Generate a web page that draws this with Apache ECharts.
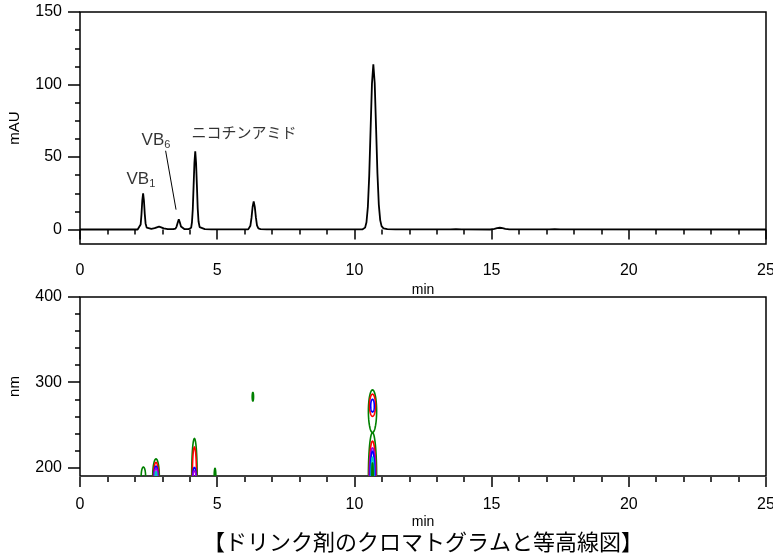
<!DOCTYPE html>
<html>
<head>
<meta charset="utf-8">
<script src="https://cdn.jsdelivr.net/npm/echarts@6/dist/echarts.min.js"></script>
<style>
html,body{margin:0;padding:0;background:#fff;}
#c{width:773px;height:556px;}
</style>
</head>
<body>
<div id="c"></div>
<script>
// ---- chromatogram (time in min, absorbance in mAU) ----
const chromTime = [0, 2.10, 2.17, 2.21, 2.24, 2.27, 2.30, 2.33, 2.36, 2.39, 2.43, 2.50, 2.60, 2.72, 2.80, 2.88, 2.96, 3.05, 3.20, 3.40, 3.48, 3.52, 3.56, 3.60, 3.64, 3.68, 3.72, 3.80, 3.95, 4.02, 4.05, 4.08, 4.11, 4.14, 4.17, 4.20, 4.23, 4.26, 4.29, 4.32, 4.36, 4.42, 4.55, 4.80, 6.13, 6.17, 6.21, 6.25, 6.29, 6.33, 6.37, 6.41, 6.45, 6.50, 6.58, 6.80, 10.30, 10.39, 10.44, 10.49, 10.54, 10.59, 10.64, 10.69, 10.74, 10.79, 10.84, 10.89, 10.94, 10.99, 11.06, 11.20, 11.50, 13.50, 13.70, 13.90, 14.95, 15.10, 15.20, 15.30, 15.40, 15.50, 15.65, 17.10, 17.30, 17.50, 25];
const chromValue = [0, 0, 0.4, 3.4, 10.3, 20, 25, 20, 10.8, 4.2, 1.3, 0.6, 0.5, 0.9, 1.5, 2.0, 1.5, 0.8, 0.3, 0.2, 0.6, 2.0, 4.7, 7, 4.8, 2.1, 0.8, 0.3, 0.2, 0.2, 1.2, 5, 14, 30, 46, 54, 46, 30.5, 14.5, 5.5, 1.6, 0.6, 0.3, 0.1, 0.1, 0.6, 2.6, 8, 15.5, 19.4, 15.6, 8.3, 2.9, 0.8, 0.3, 0.1, 0.1, 1.3, 5, 15.4, 37, 69, 100.6, 114, 101, 70, 38.5, 17, 6.5, 2.3, 0.8, 0.3, 0.1, 0.15, 0.3, 0.15, 0, 0.4, 0.9, 1.2, 0.9, 0.4, 0.1, 0.1, 0.25, 0.1, 0];

// ---- peak annotations ----
const annTime = [2.22, 2.77, 5.98];
const annValue = [34.8, 61.7, 67.2];
const annText = ['{a|VB}{s|1}', '{a|VB}{s|6}', '{j|ニコチンアミド}'];
const leaderStart = [3.12, 54.3];
const leaderEnd = [3.50, 13.7];

// ---- contour rings (time, wavelength centre, half width in min, half height in nm, level) ----
const contourTime = [2.31, 2.77, 2.77, 2.77, 2.77, 2.77, 4.17, 4.17, 4.17, 4.17, 4.92, 6.30, 10.66, 10.66, 10.66, 10.66, 10.66, 10.66, 10.66, 10.66, 10.66];
const contourNm = [190, 190, 190, 190, 190, 190, 190, 190, 190, 190, 190, 283, 266, 273, 272.5, 190, 190, 190, 190, 190, 190];
const contourHalfWidth = [0.08, 0.12, 0.09, 0.07, 0.06, 0.03, 0.10, 0.075, 0.06, 0.05, 0.03, 0.025, 0.15, 0.11, 0.065, 0.15, 0.12, 0.11, 0.08, 0.05, 0.025];
const contourHalfHeight = [10.5, 20, 16, 11.5, 9, 5, 44, 34, 10, 6, 9, 5, 25, 13, 7.5, 51, 41, 33, 29, 22, 15];
const contourLevel = [0, 0, 1, 3, 2, 4, 0, 1, 3, 2, 0, 0, 0, 1, 3, 0, 1, 2, 3, 4, 0];

// ---- axis ticks ----
const timeTicks = [0, 5, 10, 15, 20, 25];
const mauMajor = [0, 50, 100, 150];
const mauMinor = [12.5, 25, 37.5, 62.5, 75, 87.5, 112.5, 125, 137.5];
const nmMajor = [200, 300, 400];
const nmMinor = [220, 240, 260, 280, 320, 340, 360, 380];

const levelColors = ['#008000', '#ff0000', '#a000e0', '#0000ff', '#00c8c8'];
const FONT = '"Liberation Sans", Arial, "Noto Sans CJK JP", sans-serif';
const JFONT = '"Noto Sans CJK JP", sans-serif';

const chromData = chromTime.map((t, i) => [t, chromValue[i]]);
const annData = annTime.map((t, i) => ({ value: [t, annValue[i]], label: { formatter: annText[i] } }));
const contourData = contourTime.map((t, i) => [t, contourNm[i], contourHalfWidth[i], contourHalfHeight[i], contourLevel[i]]);

const chart = echarts.init(document.getElementById('c'), null, { renderer: 'canvas' });

function xAxisCfg(gi, labelMargin) {
  return {
    type: 'value', gridIndex: gi, min: 0, max: 25, interval: 5, offset: 1,
    name: 'min', nameLocation: 'middle', nameGap: 38, nameMoveOverlap: false,
    nameTextStyle: { fontFamily: FONT, fontSize: 14, color: '#000' },
    axisLine: { show: false },
    axisTick: { show: true, length: 10, lineStyle: { color: '#000', width: 1.5 } },
    minorTick: { show: true, splitNumber: 5, length: 5, lineStyle: { color: '#000', width: 1.5 } },
    axisLabel: { fontFamily: FONT, fontSize: 16, color: '#000', margin: labelMargin },
    splitLine: { show: false }, minorSplitLine: { show: false }
  };
}
function yAxisCfg(gi, min, max, ticks, len, showLabel, name) {
  return {
    type: 'value', gridIndex: gi, min: min, max: max, position: 'left',
    name: name || '', nameLocation: 'middle', nameGap: 58, nameRotate: 90,
    nameTextStyle: { fontFamily: FONT, fontSize: 15, color: '#000' },
    axisLine: { show: false },
    axisTick: { show: true, length: len, customValues: ticks, lineStyle: { color: '#000', width: 1.5 } },
    axisLabel: { show: showLabel, customValues: ticks, fontFamily: FONT, fontSize: 16, color: '#000', margin: 18 },
    splitLine: { show: false }
  };
}

chart.setOption({
  animation: false,
  backgroundColor: '#fff',
  title: {
    text: '【ドリンク剤のクロマトグラムと等高線図】',
    left: 418, top: 526, textAlign: 'center',
    textStyle: { fontFamily: JFONT, fontSize: 22, fontWeight: 'normal', color: '#000' }
  },
  grid: [
    { left: 80, right: 7, top: 12, height: 232, show: true, borderColor: '#000', borderWidth: 1.5, backgroundColor: 'transparent', outerBoundsMode: 'none', containLabel: false },
    { left: 80, right: 7, top: 297, height: 179, show: true, borderColor: '#000', borderWidth: 1.5, backgroundColor: 'transparent', outerBoundsMode: 'none', containLabel: false }
  ],
  xAxis: [xAxisCfg(0, 18), xAxisCfg(1, 20)],
  yAxis: [
    yAxisCfg(0, -10, 150, mauMajor, 12, true, 'mAU'),
    yAxisCfg(0, -10, 150, mauMinor, 5, false),
    yAxisCfg(1, 190, 400, nmMajor, 12, true, 'nm'),
    yAxisCfg(1, 190, 400, nmMinor, 5, false)
  ],
  series: [
    {
      type: 'line', xAxisIndex: 0, yAxisIndex: 0, data: chromData,
      showSymbol: false, symbol: 'none', smooth: false,
      lineStyle: { color: '#000', width: 1.8 },
      markLine: {
        silent: true, symbol: ['none', 'none'], label: { show: false },
        lineStyle: { color: '#000', width: 1, type: 'solid' },
        data: [[{ coord: leaderStart }, { coord: leaderEnd }]]
      }
    },
    {
      type: 'scatter', xAxisIndex: 0, yAxisIndex: 0, data: annData, symbolSize: 0,
      label: {
        show: true, position: 'inside', color: '#000',
        rich: {
          a: { fontFamily: FONT, fontSize: 17, lineHeight: 20, color: '#000' },
          s: { fontFamily: FONT, fontSize: 11, lineHeight: 8, verticalAlign: 'bottom', color: '#000' },
          j: { fontFamily: JFONT, fontSize: 15, color: '#000' }
        }
      }
    },
    {
      type: 'custom', xAxisIndex: 1, yAxisIndex: 2, data: contourData, clip: true,
      encode: { x: 0, y: 1 },
      renderItem: function (params, api) {
        const t = api.value(0), nm = api.value(1), hw = api.value(2), hh = api.value(3), lvl = api.value(4);
        const pts = [];
        for (let k = 0; k < 60; k++) {
          const a = 2 * Math.PI * k / 60;
          pts.push(api.coord([t + hw * Math.cos(a), nm + hh * Math.sin(a)]));
        }
        return { type: 'polygon', shape: { points: pts }, style: { fill: 'none', stroke: levelColors[lvl], lineWidth: 1.6 } };
      }
    }
  ]
});
</script>
</body>
</html>
